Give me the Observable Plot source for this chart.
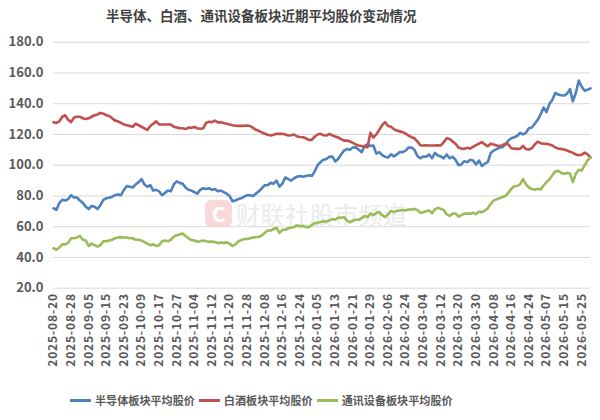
<!DOCTYPE html>
<html><head><meta charset="utf-8">
<script src="https://cdn.jsdelivr.net/npm/d3@7"></script>
<script src="https://cdn.jsdelivr.net/npm/@observablehq/plot@0.6"></script>
<style>
body{margin:0;background:#fff;font-family:"Noto Sans CJK SC","Noto Sans",sans-serif;}
#wrap{position:relative;width:600px;height:420px;overflow:hidden;background:#fff;}
#title{position:absolute;left:106px;top:6px;font-size:13.5px;line-height:18px;font-weight:bold;color:#404040;white-space:nowrap;}
#wm{position:absolute;left:205px;top:196px;display:flex;align-items:center;}
#wm .logo{width:27px;height:27px;border-radius:6px;background:#f8d9d9;color:#fff;font-weight:bold;font-size:22px;line-height:27px;text-align:center;font-family:"Noto Sans",sans-serif;}
#wm .txt{margin-left:4px;font-size:24px;color:#ebebeb;letter-spacing:0.5px;white-space:nowrap;}
#chart{position:absolute;left:0;top:30px;}
#legend{position:absolute;left:70px;top:392px;display:flex;align-items:center;font-size:11.1px;font-weight:bold;color:#595959;white-space:nowrap;}
#legend .sw{display:inline-block;width:21px;height:3px;margin-right:4px;}
#legend .it{display:flex;align-items:center;margin-right:4px;}
[aria-label="y-axis tick label"] text{font-size:13px;}
[aria-label="x-axis tick label"] text{font-size:12px;letter-spacing:0.8px;}
</style>
</head><body>
<div id="wrap">
  <div id="title"></div>
  <div id="wm"><div class="logo">C</div><div class="txt">财联社股市频道</div></div>
  <div id="chart"></div>
  <div id="legend"></div>
</div>
<script>
const chartTitle = "半导体、白酒、通讯设备板块近期平均股价变动情况";
const seriesNames = ["半导体板块平均股价", "白酒板块平均股价", "通讯设备板块平均股价"];
const seriesColors = ["#4F81BD", "#C0504D", "#9BBB59"];

// tick labels (every 6th trading day)
const xTickLabels = [
  "2025-08-20","2025-08-28","2025-09-05","2025-09-15","2025-09-23","2025-10-09","2025-10-17","2025-10-27",
  "2025-11-04","2025-11-12","2025-11-20","2025-11-28","2025-12-08","2025-12-16","2025-12-24",
  "2026-01-05","2026-01-13","2026-01-21","2026-01-29","2026-02-06","2026-02-24","2026-03-04",
  "2026-03-12","2026-03-20","2026-03-30","2026-04-08","2026-04-16","2026-04-24","2026-05-07",
  "2026-05-15","2026-05-25"
];
const tickStep = 6;
const yTicks = [20, 40, 60, 80, 100, 120, 140, 160, 180];

// 半导体 (one value per trading day)
const semiconductor = [
  72,71,75.5,77.5,77,78,80.5,79,79,77,
  75.5,73,71.5,73.5,73,71.5,74,77.5,78.5,78.8,
  79.5,80.5,81,80.5,84,86.5,86,85.5,87.5,89,
  91,87.5,86,87,83.5,84,83,80.5,82,83.5,
  83,87.5,89.5,88.5,88,85.5,84,83.5,82.5,81.5,
  84,85,84.5,85,84,84.5,83,83.5,82.5,81.5,
  80,76.5,77,78,78.5,79.5,80.5,80.5,80,81.5,
  83,85,87,87,88.5,88,90,86,88,92,
  91,90,91.5,92.5,93,92.5,93,93.5,93,96,
  100,102,103.5,104,105.5,105.7,102.5,104,107,109.5,
  110.5,110,111.5,111.7,110,108.5,112.5,113.5,112.5,112.8,
  107.5,108.5,106.5,105.5,105,107,105.7,107,108.5,108.5,
  109.5,111.5,111.5,110,106,104.5,105.7,105.5,107,104.5,
  108,106.3,105.7,104.5,107,104.5,105.5,103.5,100,100.5,
  102.6,102,103.5,103,100.5,103,99.5,101,102,108,
  109.5,110.5,111.5,111.7,113.5,116,117.5,118.2,119,121,
  120,121,124,124.5,127,129.5,133,137.5,134.5,140,
  142.5,147,146,145.5,145.3,146.5,149.5,141.5,147,155,
  151,148.5,149,150
];
// 白酒
const baijiu = [
  128,127.5,128.5,131.5,132.5,129.5,128,131,131.5,131.5,
  130.5,130,130.5,131.5,132.5,133,134,133.5,132.5,132,
  130.5,129,128.5,127.5,126.5,126,125.5,125,127,126,
  125,124,123,125.5,127,128.5,126.5,126.5,126.5,126.5,
  126.5,125,124.5,124,124,123.5,124.5,124.3,124.8,124,
  123.7,124,127.5,128.3,128,129,127.8,128,127.4,127,
  126.5,126,125.7,125.6,125.6,125.7,125.8,125.5,124.3,123,
  122.3,121.3,120.5,119.8,119.3,119.8,120.4,120.4,120.4,120,
  119.3,119.5,120,118.7,118.3,118.2,117.5,116.5,116.5,118.5,
  120,120.4,119.5,119.3,120.4,119.5,118.7,118,117,116,
  116,115.5,114.5,113.5,112.8,112.5,112,111.7,121,118,
  120,123,126,128,125.5,125,123.5,122.5,122,121.5,
  120.5,119.3,118.2,117.5,115.5,113,112.8,113,112.8,112.8,
  112.8,113,112.8,115,117.5,117,115.5,114,111.5,110.8,
  110.6,111.3,110.8,112,113,114,115,113.5,112.3,114,
  113.5,112.8,112.5,113,114,113.5,111,110.8,110.6,110.6,
  112.5,110.5,110.2,111,113.5,115.3,114.3,114,113.9,113.5,
  112.8,111.5,110.8,110.6,110.2,109.5,108.8,108,107,106.5,
  106.8,108.2,107,105
];
// 通讯设备
const telecom = [
  46,45,46.5,48.5,48.5,49.5,52.5,52.5,53,54,
  51.5,51,47.5,49,48,47,48,50.5,50.5,51,
  51.5,52.5,53,53.2,53,53,52.5,52.5,51.5,51.5,
  51,50,49,48,48.5,47.5,48,50.5,51,50.5,
  51.5,53.5,54.5,55,55.5,54,52.5,51.3,51,50.2,
  50.5,51,50.5,50.2,50.3,50,49.3,49.8,49.5,49.8,
  49,47.5,48.5,50.5,51.3,52,52,52.5,53,53.2,
  53.5,54.3,56,57.5,57.5,58.5,59.3,56,58,58,
  59,59.3,59.8,60.8,60.3,60.5,59.7,59.7,61,62.3,
  62.5,63,63.6,63.4,64,65,64.5,66,65.8,66.2,
  64,63,64,64.5,64.5,65.5,67,66.2,68.5,67.5,
  69,69.4,67.5,66.2,68,70.3,69.5,70.3,70.5,70.9,
  70.5,71.3,71,71.6,70.8,69,69.4,70,70.5,68.8,
  71.3,72.3,71.6,70.8,68,67,68.5,68.6,66.5,67.5,
  68.5,68.6,68.5,69,68.2,69.8,69.5,70.5,72,74.9,
  77,77.8,78.5,79.3,80,82,84.5,86.3,86.5,87.5,
  91,87.5,85.5,84.6,84,84.6,84.3,86.8,89,90.8,
  93.5,96,96.3,95,94.5,95,94.6,89,94.5,97,
  96.5,100,103,105.3
];

const seriesValues = [semiconductor, baijiu, telecom];
const rows = seriesValues.flatMap((vals, s) => vals.map((v, i) => ({i, v, s: seriesNames[s]})));
const nDays = Math.max(...seriesValues.map(a => a.length));
const tickIdx = xTickLabels.map((_, k) => k * tickStep);

document.getElementById("title").textContent = chartTitle;

const chart = Plot.plot({
  width: 600,
  height: 350,
  marginTop: 11.7,
  marginBottom: 92.3,
  marginLeft: 53,
  marginRight: 10,
  style: {background: "transparent", fontFamily: '"Noto Sans CJK SC","Noto Sans",sans-serif', fontWeight: "bold", color: "#595959", overflow: "visible"},
  x: {domain: [0, nDays - 1], ticks: tickIdx, tickFormat: i => xTickLabels[Math.round(i / tickStep)], tickRotate: -90, tickSize: 0, tickPadding: 5, label: null},
  y: {domain: [20, 180], ticks: yTicks, tickFormat: d => d.toFixed(1), tickSize: 0, tickPadding: 10, label: null},
  color: {domain: seriesNames, range: seriesColors},
  marks: [
    Plot.ruleY(yTicks, {stroke: "#d9d9d9", strokeWidth: 1}),
    Plot.line(rows, {x: "i", y: "v", stroke: "s", z: "s", strokeWidth: 2.6, strokeLinejoin: "round", strokeLinecap: "round"})
  ]
});
document.getElementById("chart").appendChild(chart);

const legend = document.getElementById("legend");
seriesNames.forEach((n, k) => {
  const it = document.createElement("div");
  it.className = "it";
  const sw = document.createElement("span");
  sw.className = "sw";
  sw.style.background = seriesColors[k];
  const t = document.createElement("span");
  t.textContent = n;
  it.appendChild(sw); it.appendChild(t);
  legend.appendChild(it);
});
</script>
</body></html>
